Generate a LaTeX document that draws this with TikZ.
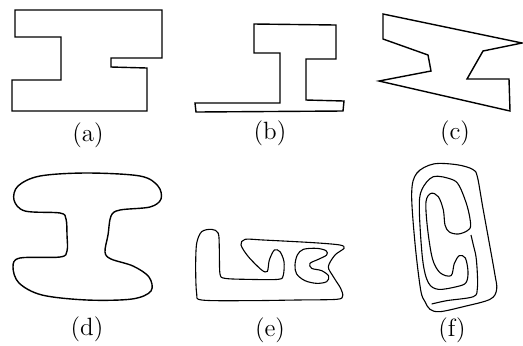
\documentclass[tikz,border=0pt]{standalone}
\begin{document}
\begin{tikzpicture}[x=0.5pt,y=-0.5pt,
  shp/.style={draw=black, line width=0.7pt, line join=miter},
  cshp/.style={draw=black, line width=0.55pt},
  lbl/.style={font=\fontsize{12.5}{15}\selectfont, inner sep=0pt}]
\useasboundingbox (0,0) rectangle (523,345);
% (a)
\draw[shp] (15,10) -- (162,10) -- (162,58) -- (111,58) -- (111,67) -- (147,68) -- (147,111) -- (12,111) -- (12,80) -- (61,80) -- (61,37) -- (15,37) -- cycle;
\node[lbl] (la) at (88,135) {(a)};
% (b)
\draw[shp] (254,24) -- (336,25) -- (336,59) -- (306,59) -- (306,100) -- (344,101) -- (343,111) -- (196,112) -- (195,103) -- (280,103) -- (280,53) -- (254,53) -- cycle;
\node[lbl] (lb) at (270,133) {(b)};
% (c)
\draw[shp] (383,14) -- (522,43) -- (483,51) -- (467,79) -- (509,79) -- (510,111) -- (379,81) -- (431,71) -- (428,55) -- (383,39) -- cycle;
\node[lbl] (lc) at (455,133) {(c)};
% (d)
\draw[shp] plot[smooth cycle, tension=0.55] coordinates {
 (87,173) (140,176) (158,186) (161,199) (150,207) (120,210) (111,216) (108,235) (105,252) (111,259) (133,266) (149,277) (151,291) (132,299) (87,300) (42,295) (19,283) (13,267) (20,258) (60,257) (67,251) (67,235) (66,219) (60,213) (25,211) (14,200) (18,186) (40,176)};
\node[lbl] (ld) at (87,329) {(d)};
% (e)
\begin{scope}[shift={(180,200)}, x=0.5pt/3, y=-0.5pt/3]
\draw[cshp] plot[smooth cycle, tension=0.5] coordinates {
 (95,88) (65,95) (50,130) (47,200) (50,280) (65,300) (200,302) (350,300) (470,298) (488,288) (482,265) (460,230) (445,200) (465,165) (492,145) (480,135) (400,128) (250,120) (195,118) (183,135) (205,170) (245,210) (262,214) (268,180) (283,150) (300,155) (312,185) (310,225) (295,238) (200,238) (135,235) (120,222) (118,150) (115,100)};
\draw[cshp] plot[smooth cycle, tension=0.55] coordinates {
 (370,148) (410,145) (438,152) (440,165) (415,178) (390,190) (395,205) (425,212) (446,228) (440,245) (410,250) (375,242) (350,222) (345,195) (352,165)};
\end{scope}
\node[lbl] (le) at (270,330) {(e)};
% (f)
\begin{scope}[shift={(390,160)}, x=0.5pt/3, y=-0.5pt/3]
\draw[cshp] plot[smooth cycle, tension=0.55] coordinates {
 (130,12) (200,14) (248,28) (262,50) (278,140) (298,250) (314,340) (320,388) (300,418) (220,440) (150,455) (120,448) (105,425) (92,390) (75,250) (65,100) (80,40)};
\draw[cshp] plot[smooth cycle, tension=0.55] coordinates {
 (130,50) (185,58) (208,78) (232,140) (242,195) (232,212) (205,222) (178,216) (165,195) (160,150) (145,110) (123,100) (108,125) (112,200) (127,295) (150,338) (183,347) (193,310) (208,287) (226,294) (234,335) (228,368) (200,380) (145,388) (115,368) (98,300) (88,150) (95,90)};
\draw[cshp] plot[smooth, tension=0.55] coordinates {
 (125,432) (170,422) (250,410) (262,385) (262,340) (258,290) (250,255) (243,225)};
\end{scope}
\node[lbl] (lf) at (452,330) {(f)};
\end{tikzpicture}
\end{document}
